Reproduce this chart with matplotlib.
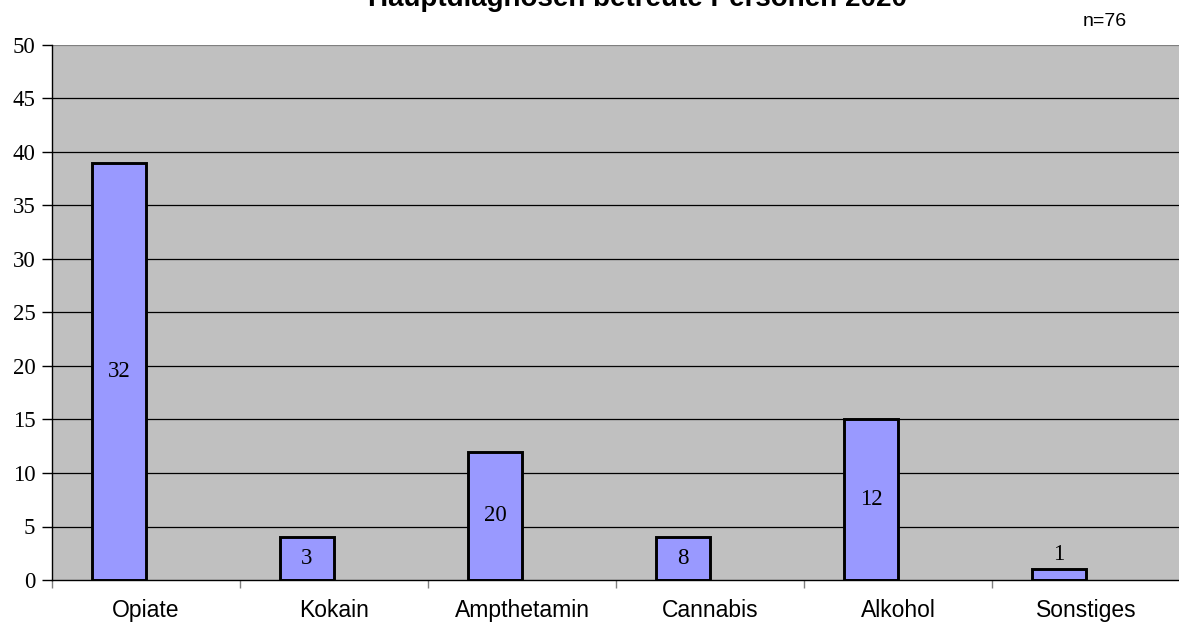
import matplotlib
matplotlib.use("Agg")
import matplotlib.pyplot as plt
import numpy as np

# Hauptdiagnosen betreute Personen 2020
categories = ["Opiate", "Kokain", "Ampthetamin", "Cannabis", "Alkohol", "Sonstiges"]
bar_heights = [39, 4, 12, 4, 15, 1]
label_values = [32, 3, 20, 8, 12, 1]
y_ticks = [0, 5, 10, 15, 20, 25, 30, 35, 40, 45, 50]

W, H = 1179, 623
fig = plt.figure(figsize=(W / 100, H / 100), dpi=100)
fig.patch.set_facecolor("white")

left, right, top, bottom = 52, 1180, 45, 580
ax = fig.add_axes([left / W, 1 - bottom / H, (right - left) / W, (bottom - top) / H])
ax.set_facecolor("#C0C0C0")

x = np.arange(len(categories))
ax.set_xlim(-0.5, len(categories) - 0.5)
ax.set_ylim(0, 50)

# horizontal grid lines
for v in y_ticks[1:-1]:
    ax.axhline(v, color="black", lw=0.9, zorder=1)
ax.axhline(50, color="#808080", lw=1.6, zorder=1)

# bars sit in the left half of each category slot
bar_w = 0.287
bar_x = x - bar_w / 2
ax.bar(bar_x, bar_heights, width=bar_w, color="#9999FF", edgecolor="black",
       linewidth=2.1, zorder=3)

for xi, h, lab in zip(bar_x, bar_heights, label_values):
    if h >= 3:
        ax.text(xi, h / 2, str(lab), ha="center", va="center",
                family="Liberation Serif", fontsize=16.5, zorder=4)
    else:
        ax.text(xi, h + 0.4, str(lab), ha="center", va="bottom",
                family="Liberation Serif", fontsize=16.5, zorder=4)

for s in ["top", "right"]:
    ax.spines[s].set_visible(False)
ax.spines["left"].set_color("black")
ax.spines["left"].set_linewidth(1.0)
ax.spines["bottom"].set_color("black")
ax.spines["bottom"].set_linewidth(1.0)
ax.spines["left"].set_zorder(5)
ax.spines["bottom"].set_zorder(5)

ax.set_yticks(y_ticks)
ax.set_yticklabels([str(v) for v in y_ticks], family="Liberation Serif", fontsize=16.5)
ax.tick_params(axis="y", length=7, width=1, color="black", pad=5)

ax.set_xticks(np.arange(-0.5, len(categories) + 0.5, 1.0))
ax.set_xticklabels([])
ax.tick_params(axis="x", length=6, width=1, color="#808080")
for xi, c in zip(x, categories):
    ax.text(xi, -2.85, c, ha="center", va="center", family="Liberation Sans",
            fontsize=16.5, transform=ax.transData, clip_on=False)

fig.text(638 / W, 1 - 6 / H, "Hauptdiagnosen betreute Personen 2020",
         ha="center", va="baseline", family="Liberation Sans", weight="bold",
         fontsize=20)
fig.text(1105 / W, 1 - 22 / H, "n=76", ha="center", va="center",
         family="Liberation Sans", fontsize=14)

fig.savefig("out.png", dpi=100, facecolor="white")
